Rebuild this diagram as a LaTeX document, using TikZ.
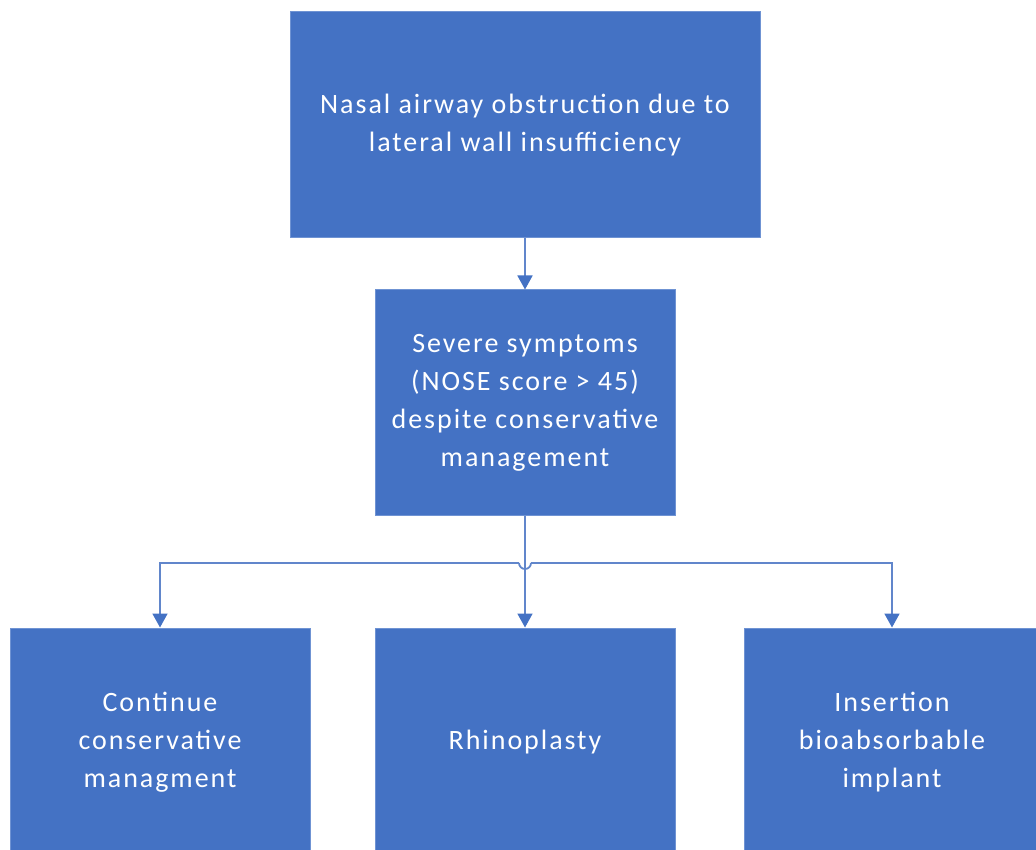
\documentclass[tikz,border=0pt]{standalone}
\usepackage{fontspec}
\setmainfont{Carlito}[LetterSpace=7]
\usetikzlibrary{arrows.meta,calc}
\definecolor{boxblue}{HTML}{4472C4}
\definecolor{boxedge}{HTML}{6F93D3}
\definecolor{linkblue}{HTML}{6186CB}
\tikzset{
  flowbox/.style={rectangle, fill=boxblue, draw=boxedge, line width=1pt,
    text=white, align=center, inner sep=0pt,
    font=\fontsize{28}{38}\selectfont},
  link/.style={draw=linkblue, line width=1.8pt},
  linkarrow/.style={link, -{Triangle[width=15pt,length=14pt,fill=boxblue,color=boxblue]}},
}
\begin{document}
\begin{tikzpicture}[x=1pt,y=-1pt]
\useasboundingbox (0,0) rectangle (1036,850);
\clip (0,0) rectangle (1036,850);
\fill[white] (0,0) rectangle (1036,850);
\node[flowbox, minimum width=470pt, minimum height=226pt] (top) at (525,125)
  {Nasal airway obstruction due to\\lateral wall insufficiency};
\node[flowbox, minimum width=300pt, minimum height=225pt] (mid) at (525,402.5)
  {Severe symptoms\\(NOSE score > 45)\\despite conservative\\management};
\node[flowbox, minimum width=300pt, minimum height=228pt] (left) at (160,742)
  {Continue\\conservative\\managment};
\node[flowbox, minimum width=300pt, minimum height=228pt] (rhino) at (525,742)
  {Rhinoplasty};
\node[flowbox, minimum width=296pt, minimum height=228pt] (right) at (892,742)
  {Insertion\\bioabsorbable\\implant};
\coordinate (j) at (525,563);
\draw[linkarrow] (top.south) -- (mid.north);
\draw[linkarrow] (mid.south) -- (rhino.north);
\draw[link] ($(j)+(-6,0)$) arc[start angle=180, end angle=0, radius=6];
\draw[linkarrow] ($(j)+(-6,0)$) -| (left.north);
\draw[linkarrow] ($(j)+(6,0)$) -| (right.north);
\end{tikzpicture}
\end{document}
